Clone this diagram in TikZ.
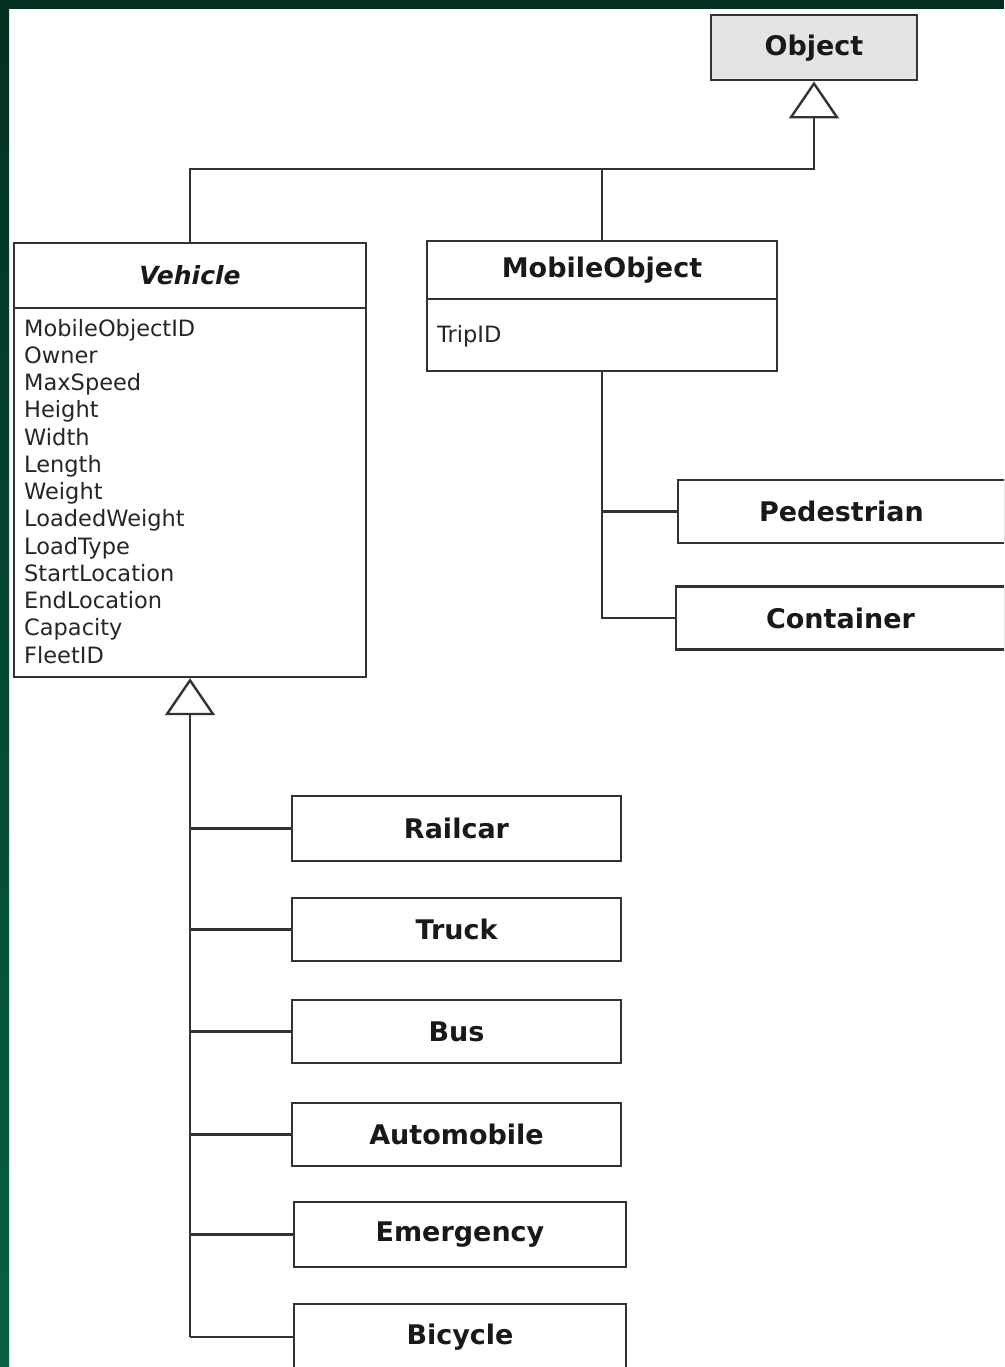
\documentclass[tikz,border=0pt]{standalone}
\usepackage{fontspec}
\setmainfont{DejaVu Sans}
\usetikzlibrary{arrows.meta}
\definecolor{linec}{HTML}{333333}
\definecolor{gdark}{HTML}{03301F}
\definecolor{gbright}{HTML}{066240}
\definecolor{objfill}{HTML}{E4E4E4}
\tikzset{
  cls/.style={draw=linec, line width=2.4pt, fill=white, inner sep=0pt, font=\fontsize{27}{30}\selectfont\bfseries, text=black!90},
  attr/.style={anchor=base west, inner sep=0pt, font=\fontsize{22.5}{27}\selectfont, text=black!85},
  conn/.style={draw=linec, line width=2.4pt},
  inh/.style={conn, -{Triangle[open, length=37pt, width=50pt, line width=2.4pt]}}
}
\begin{document}
\begin{tikzpicture}[x=1pt, y=-1pt]
\useasboundingbox (0,0) rectangle (1004,1367);
\fill[white] (0,0) rectangle (1004,1367);
\shade[top color=gdark, bottom color=gbright] (0,0) rectangle (9,1367);
\fill[gdark] (0,0) rectangle (1004,9);
\begin{scope}
\clip (9,9) rectangle (1004,1367);
% Object
\node[cls, fill=objfill, minimum width=206pt, minimum height=65pt] (obj) at (814,47.75) {Object};
% Vehicle
\node[cls, minimum width=352pt, minimum height=65pt, font=\fontsize{25}{28}\selectfont\bfseries\itshape] (veh) at (190,275.5) {Vehicle};
\node[cls, minimum width=352pt, minimum height=369pt] (vattr) at (190,492.5) {};
\foreach \t [count=\i from 0] in {MobileObjectID,Owner,MaxSpeed,Height,Width,Length,Weight,LoadedWeight,LoadType,StartLocation,EndLocation,Capacity,FleetID}
  \node[attr] (va\i) at (24,{336+27.25*\i}) {\t};
% MobileObject
\node[cls, minimum width=350pt, minimum height=58pt] (mob) at (602,270) {MobileObject};
\node[cls, minimum width=350pt, minimum height=72pt] (mattr) at (602,335) {};
\node[attr] (trip) at (437,342) {TripID};
% Pedestrian, Container
\node[cls, minimum width=327pt, minimum height=63pt] (ped) at (841.5,511.5) {Pedestrian};
\node[cls, minimum width=329pt, minimum height=63pt] (cont) at (840.5,618) {Container};
% Vehicle subclasses
\node[cls, minimum width=329pt, minimum height=65pt] (rail) at (456.5,828.5) {Railcar};
\node[cls, minimum width=329pt, minimum height=63pt] (truck) at (456.5,929.5) {Truck};
\node[cls, minimum width=329pt, minimum height=63pt] (bus) at (456.5,1031.5) {Bus};
\node[cls, minimum width=329pt, minimum height=63pt] (auto) at (456.5,1134.5) {Automobile};
\node[cls, minimum width=332pt, minimum height=65pt] (emer) at (460,1234.5) {Emergency};
\node[cls, minimum width=332pt, minimum height=66pt] (bike) at (460,1337) {Bicycle};
% connectors
\coordinate (jt) at (814,169);
\coordinate (jb) at (190,1337);
\draw[inh] (veh.north) |- (jt) -- (obj.south);
\draw[conn] (mob.north) -- (mob.north |- jt);
\draw[conn] (mattr.south) |- (cont.west);
\draw[conn] (ped.west) -- (ped.west -| mattr.south);
\draw[inh] (jb) -- (vattr.south);
\draw[conn] (jb) -- (bike.west);
\foreach \n in {rail,truck,bus,auto,emer}
  \draw[conn] (\n.west) -- (\n.west -| jb);
\end{scope}
\end{tikzpicture}
\end{document}
